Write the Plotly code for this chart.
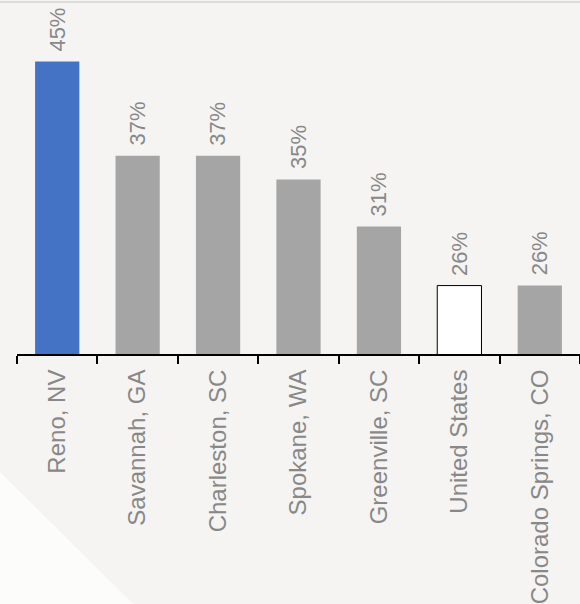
import plotly.graph_objects as go

# Share of households, by metro area
categories = ["Reno, NV", "Savannah, GA", "Charleston, SC", "Spokane, WA",
              "Greenville, SC", "United States", "Colorado Springs, CO"]
values = [45, 37, 37, 35, 31, 26, 26]
value_labels = ["45%", "37%", "37%", "35%", "31%", "26%", "26%"]

BLUE = "#4472c4"
GRAY = "#a5a5a5"
TEXT = "#888888"

fill = [BLUE if c == "Reno, NV" else ("#ffffff" if c == "United States" else GRAY)
        for c in categories]
outline = ["#000000" if c == "United States" else "rgba(0,0,0,0)" for c in categories]

fig = go.Figure(go.Bar(
    x=categories, y=values,
    marker=dict(color=fill, line=dict(color=outline, width=1)),
    width=0.55,
))

for c, v, t in zip(categories, values, value_labels):
    fig.add_annotation(x=c, y=v, text=t, textangle=-90, showarrow=False,
                       xanchor="center", yanchor="bottom", yshift=8,
                       font=dict(size=22, color=TEXT))

# light corner wedge and thin top rule
fig.add_shape(type="path", xref="paper", yref="paper",
              path="M -0.0302 -0.338 L 0.206 -0.716 L -0.0302 -0.716 Z",
              fillcolor="#fcfcfb", line=dict(width=0), layer="below")
fig.add_shape(type="line", xref="paper", yref="paper",
              x0=-0.0302, x1=1.0, y0=1.0086, y1=1.0086,
              line=dict(color="#dcdcdc", width=2))

fig.update_layout(
    width=580, height=604,
    margin=dict(l=17, r=0, t=5, b=250),
    paper_bgcolor="#f5f4f3", plot_bgcolor="#f5f4f3",
    font=dict(family="Liberation Sans, Arial, sans-serif", color=TEXT),
    showlegend=False,
    xaxis=dict(showline=True, linecolor="#000000", linewidth=2,
               ticks="outside", tickson="boundaries", ticklen=8, tickwidth=2,
               tickcolor="#000000", tickangle=-90,
               tickfont=dict(size=24, color=TEXT), ticklabelstandoff=4),
    yaxis=dict(range=[20.2, 49.78], visible=False, showgrid=False, zeroline=False),
)

fig.write_html("out.html")
